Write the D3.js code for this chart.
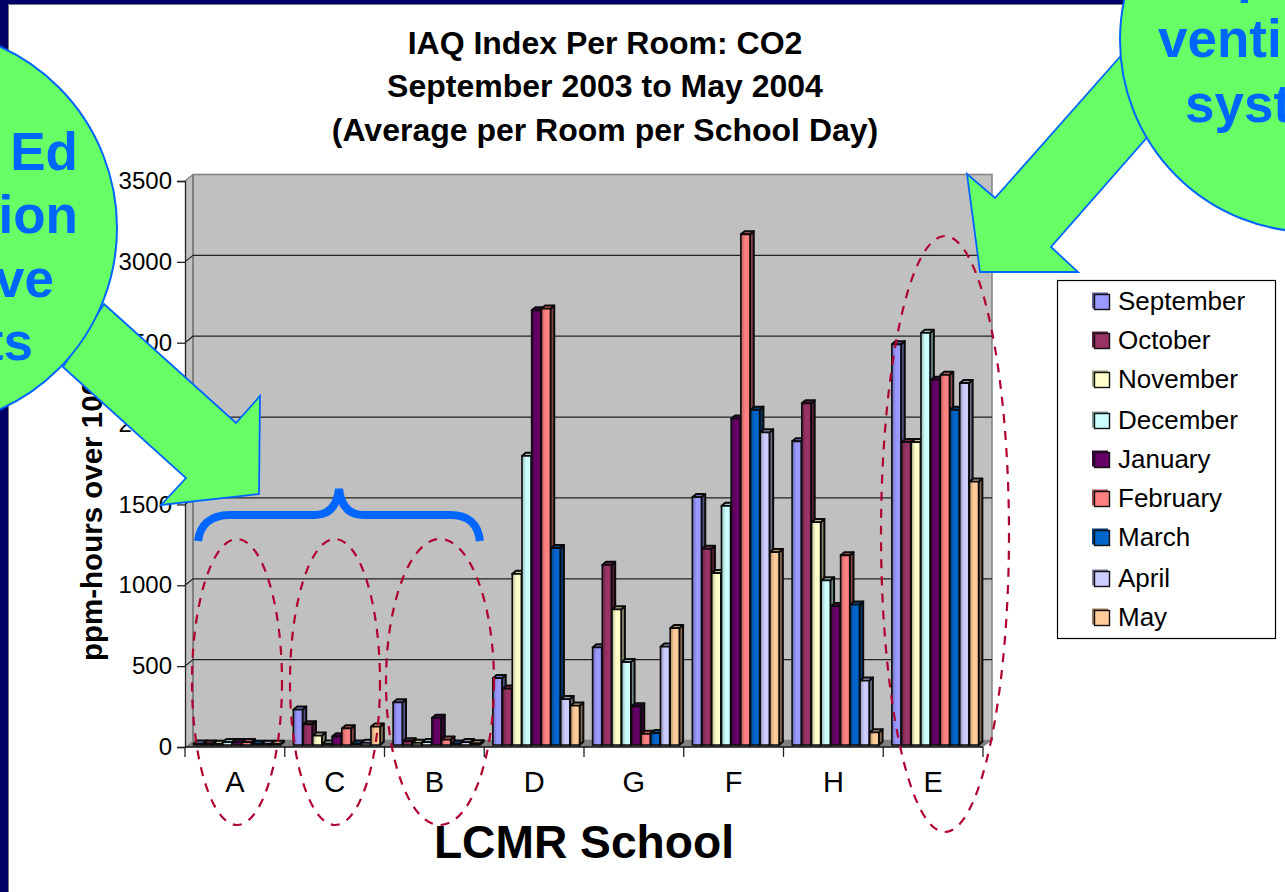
<!DOCTYPE html>
<html><head><meta charset="utf-8">
<script src="https://cdn.jsdelivr.net/npm/d3@7/dist/d3.min.js"></script>
<style>html,body{margin:0;padding:0;background:#fff;overflow:hidden}svg{display:block}text{font-family:"Liberation Sans",Arial,sans-serif}</style>
</head><body><div id="chart"></div>
<script>
const schools = ["A","C","B","D","G","F","H","E"];
const months = ["September","October","November","December","January","February","March","April","May"];
const monthColors = ["#9999FF","#993366","#FFFFCC","#CCFFFF","#660066","#FF8080","#0066CC","#CCCCFF","#FFCC99"];
const September = [20,230,275,425,615,1545,1890,2490];
const October   = [20,140,35,360,1125,1225,2125,1885];
const November  = [15,70,25,1070,850,1075,1390,1885];
const December  = [30,20,30,1800,525,1490,1030,2560];
const January   = [30,65,180,2700,250,2030,870,2270];
const February  = [30,115,45,2710,80,3170,1185,2300];
const March     = [10,20,20,1230,85,2085,880,2085];
const April     = [5,25,30,295,620,1945,410,2250];
const May       = [12,125,22,255,735,1205,90,1640];
const seriesValues = [September,October,November,December,January,February,March,April,May];
const yTicks = [0,500,1000,1500,2000,2500,3000,3500];
const titleLines = ["IAQ Index Per Room: CO2","September 2003 to May 2004","(Average per Room per School Day)"];
const yTitle = "ppm-hours over 1000";
const xTitle = "LCMR School";
const leftCallout = ["Ed","ion","ve","ts"];
const rightCallout = ["p","venti","syst"];

const W=1285,H=892;
const svg=d3.select("#chart").append("svg").attr("width",W).attr("height",H);
const defs=svg.append("defs");
const x=d3.scaleBand().domain(schools).range([185,983]);
const inner=d3.scaleBand().domain(months).range([8.6,8.6+9.7*9]);
const y=d3.scaleLinear().domain([0,3500]).range([747,181]);
const dx=8,dy=-6.5;       // wall depth
const bdx=3.8,bdy=-3.2;   // bar depth
const base=745;

// slide background
svg.append("rect").attr("width",W).attr("height",H).attr("fill","#fff");
svg.append("rect").attr("width",W).attr("height",4).attr("fill","#000066");
svg.append("rect").attr("width",8).attr("height",H).attr("fill","#000066");
svg.append("path").attr("d",`M8.5,${H}V4.5H${W}`).attr("fill","none").attr("stroke","#777").attr("stroke-width",1);

// gradients
monthColors.forEach((c,i)=>{
  const g=defs.append("linearGradient").attr("id","g"+i).attr("x1",0).attr("x2",1).attr("y1",0).attr("y2",0);
  const d=d3.color(c).darker(1).formatHex();
  g.append("stop").attr("offset","0%").attr("stop-color",d);
  g.append("stop").attr("offset","45%").attr("stop-color",c);
  g.append("stop").attr("offset","100%").attr("stop-color",c);
});

// walls
const xL=x.range()[0],xR=x.range()[1];
svg.append("polygon").attr("points",[[xL,y(3500)],[xL+dx,y(3500)+dy],[xL+dx,y(0)+dy],[xL,y(0)]].join(" ")).attr("fill","#C0C0C0");
svg.append("rect").attr("x",xL+dx).attr("y",y(3500)+dy).attr("width",xR+9-xL-dx).attr("height",y(0)-y(3500)).attr("fill","#C0C0C0").attr("stroke","#808080").attr("stroke-width",1.5);
svg.append("line").attr("x1",xL+dx).attr("x2",xL+dx).attr("y1",y(3500)+dy).attr("y2",y(0)+dy).attr("stroke","#808080").attr("stroke-width",2);
svg.append("polygon").attr("points",[[xL,y(0)],[xL+dx,y(0)+dy],[xR+9,y(0)+dy],[xR,y(0)]].join(" ")).attr("fill","#808080");

// gridlines
const grid=svg.append("g").selectAll("g").data(yTicks.slice(1,-1)).join("g");
grid.append("path").attr("d",d=>`M${xL},${y(d)}L${xL+dx},${y(d)+dy}H${xR+9}`).attr("fill","none").attr("stroke","#222").attr("stroke-width",1.2);
svg.append("path").attr("d",`M${xL},${y(3500)}L${xL+dx},${y(3500)+dy}`).attr("stroke","#808080").attr("stroke-width",1.2);

// axes
const yAxis=d3.axisLeft(y).tickValues(yTicks).tickFormat(d3.format("d")).tickSize(8).tickPadding(5);
const gy=svg.append("g").attr("transform",`translate(${xL},0)`).call(yAxis);
gy.selectAll("text").attr("font-size",24).attr("fill","#000");
gy.selectAll("line,path").attr("stroke","#222").attr("stroke-width",1.3);
const gx=svg.append("g").attr("transform",`translate(0,${y(0)})`).call(d3.axisBottom(x).tickSize(0).tickPadding(24));
gx.select("path").remove();
gx.selectAll("text").attr("font-size",29).attr("fill","#000");
svg.append("g").selectAll("line").data(schools.concat(["end"])).join("line")
  .attr("x1",d=>d==="end"?xR:x(d)).attr("x2",d=>d==="end"?xR:x(d)).attr("y1",y(0)).attr("y2",y(0)+10).attr("stroke","#222").attr("stroke-width",1.3);
svg.append("line").attr("x1",xL).attr("x2",xR).attr("y1",y(0)).attr("y2",y(0)).attr("stroke","#111").attr("stroke-width",1.6);

// bars
const plot=svg.append("g");
schools.forEach((s,si)=>{
  months.forEach((m,mi)=>{
    const v=seriesValues[mi][si], c=monthColors[mi];
    const X=x(s)+inner(m), w=inner.bandwidth()-0.6, t=Math.min(y(v),base-1);
    const g=plot.append("g").attr("stroke","#0b0b0b").attr("stroke-width",2).attr("stroke-linejoin","round");
    g.append("polygon").attr("points",[[X+w,t],[X+w+bdx,t+bdy],[X+w+bdx,base+bdy],[X+w,base]].join(" ")).attr("fill",d3.color(c).darker(1.8));
    g.append("polygon").attr("points",[[X,t],[X+bdx,t+bdy],[X+w+bdx,t+bdy],[X+w,t]].join(" ")).attr("fill",d3.color(c).darker(0.8));
    g.append("rect").attr("x",X).attr("y",t).attr("width",w).attr("height",base-t).attr("fill",`url(#g${mi})`).attr("stroke-width",1.6);
  });
});

// titles
svg.append("g").selectAll("text").data(titleLines).join("text")
  .attr("x",605).attr("y",(d,i)=>54+i*43.3).attr("text-anchor","middle").attr("font-weight","bold").attr("font-size",32).attr("fill","#000").text(d=>d);
svg.append("text").attr("transform","translate(102,661) rotate(-90)").attr("font-weight","bold").attr("font-size",29.5).attr("fill","#000").text(yTitle);
svg.append("text").attr("x",584).attr("y",858).attr("text-anchor","middle").attr("font-weight","bold").attr("font-size",46.2).attr("fill","#000").text(xTitle);

// legend
svg.append("rect").attr("x",1057.5).attr("y",280.5).attr("width",218).attr("height",358).attr("fill","#fff").attr("stroke","#000").attr("stroke-width",1.2);
const legendY=[301,340,379,420,459,498,537,578,617];
const lg=svg.append("g").selectAll("g").data(months).join("g").attr("transform",(d,i)=>`translate(0,${legendY[i]})`);
lg.append("rect").attr("x",1092).attr("y",-8.5).attr("width",16).attr("height",16).attr("fill",(d,i)=>d3.color(monthColors[i]).darker(1.4));
lg.append("rect").attr("x",1094.5).attr("y",-6.5).attr("width",15).attr("height",15).attr("fill",(d,i)=>monthColors[i]).attr("stroke","#111").attr("stroke-width",1.4);
lg.append("text").attr("x",1118).attr("y",9).attr("font-size",26).attr("fill","#000").text(d=>d);

// dashed ellipses
const ellipses=[[237,682,45,143],[335,682,45,143],[440,682,54,143],[945,534,64,298]];
svg.append("g").selectAll("ellipse").data(ellipses).join("ellipse")
  .attr("cx",d=>d[0]).attr("cy",d=>d[1]).attr("rx",d=>d[2]).attr("ry",d=>d[3])
  .attr("fill","none").attr("stroke","#B0002F").attr("stroke-width",2.2).attr("stroke-dasharray","9 8");

// bracket
svg.append("path").attr("d","M198,541C200,525 210,515 230,515H315C330,515 337,505 339,489C341,505 348,515 363,515H450C470,515 478,525 480,541")
  .attr("fill","none").attr("stroke","#0066FF").attr("stroke-width",8);

// callouts
const green="#66FF66",blue="#0066FF";
const leftArrow=[[104,304],[236,423],[260,396],[259,494],[161,505],[186,478],[63,367]];
const rightArrow=[[1126,50],[995,198],[967,174],[980,272],[1078,272],[1051,247],[1150,134]];
[leftArrow,rightArrow].forEach(p=>svg.append("polygon").attr("points",p.join(" ")).attr("fill",green).attr("stroke",blue).attr("stroke-width",1.8));
svg.append("circle").attr("cx",-82).attr("cy",228).attr("r",199).attr("fill",green).attr("stroke",blue).attr("stroke-width",2);
svg.append("circle").attr("cx",1312).attr("cy",40).attr("r",192).attr("fill",green).attr("stroke",blue).attr("stroke-width",2);
const leftEnds=[78,78,54,33];
svg.append("g").selectAll("text").data(leftCallout).join("text")
  .attr("x",(d,i)=>leftEnds[i]).attr("y",(d,i)=>170+i*63.3).attr("text-anchor","end").attr("font-weight","bold").attr("font-size",53).attr("fill",blue).text(d=>d);
const rightStarts=[1237,1158,1185];
const rightBaselines=[-8,57,122];
svg.append("g").selectAll("text").data(rightCallout).join("text")
  .attr("x",(d,i)=>rightStarts[i]).attr("y",(d,i)=>rightBaselines[i]).attr("font-weight","bold").attr("font-size",53).attr("fill",blue).text(d=>d);
</script></body></html>
